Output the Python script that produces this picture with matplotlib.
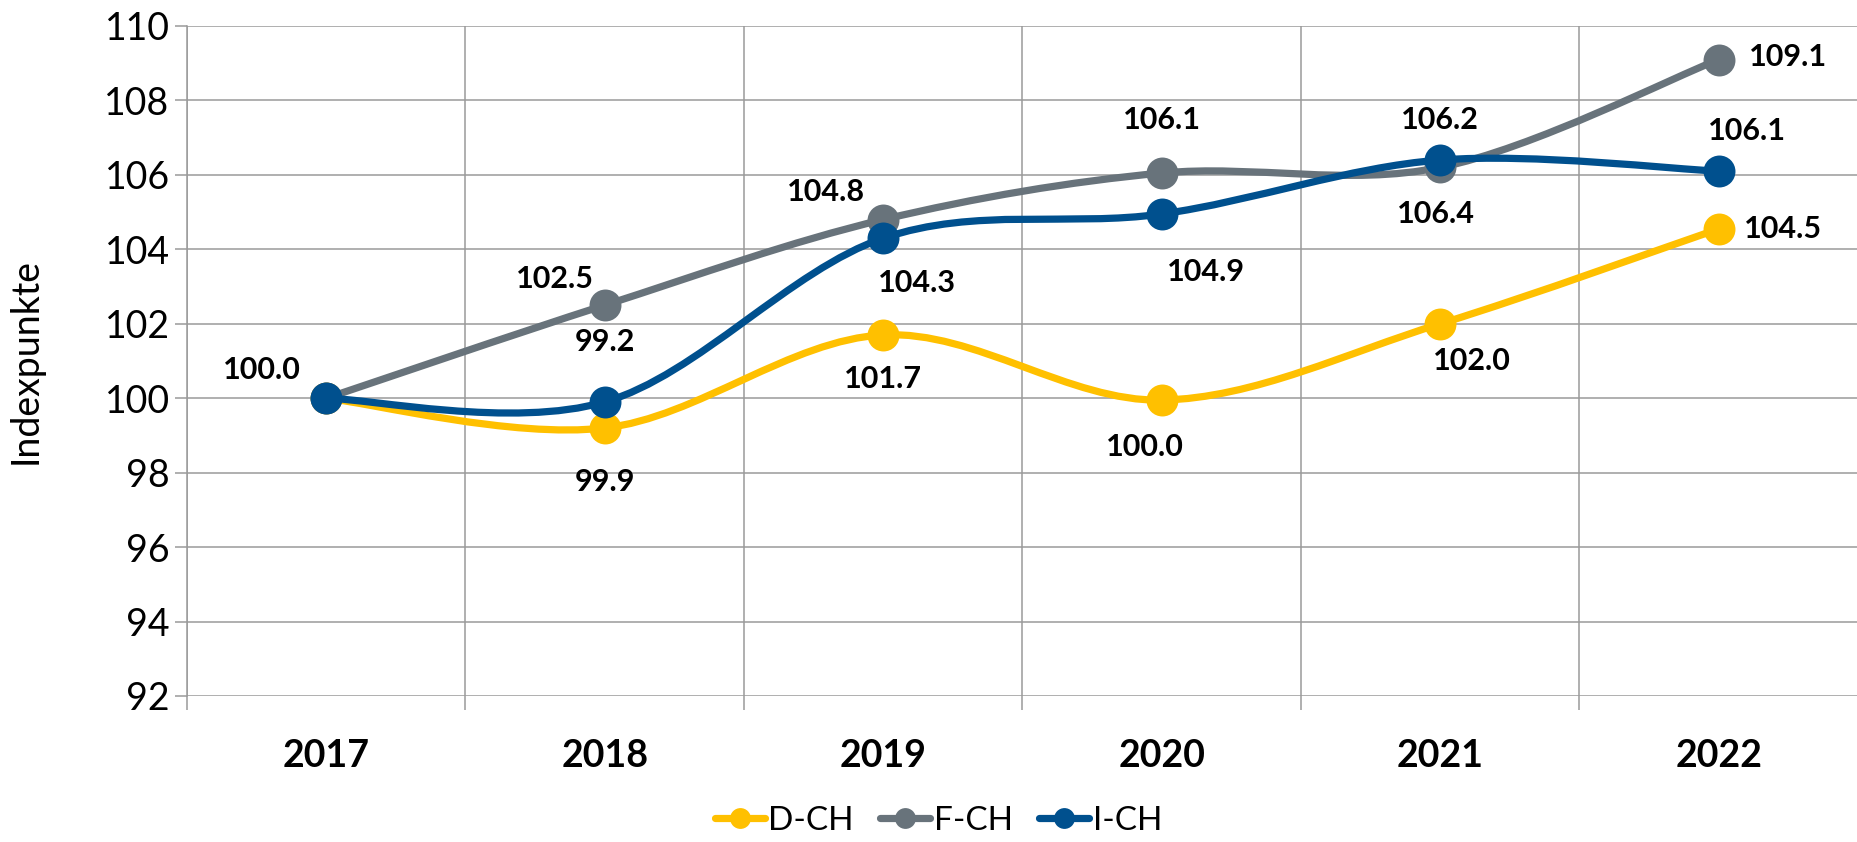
import matplotlib
matplotlib.use('Agg')
import matplotlib.pyplot as plt
import numpy as np
from matplotlib.path import Path
from matplotlib.patches import PathPatch
from matplotlib.lines import Line2D
from matplotlib.ticker import FixedLocator

# ---------------- data ----------------
years = ['2017', '2018', '2019', '2020', '2021', '2022']
series_names = ['D-CH', 'F-CH', 'I-CH']
d_ch = [100.0, 99.2, 101.7, 99.95, 102.0, 104.55]
f_ch = [100.0, 102.5, 104.8, 106.05, 106.2, 109.1]
i_ch = [100.0, 99.9, 104.3, 104.95, 106.4, 106.1]
d_labels = ['', '99.9', '101.7', '100.0', '102.0', '104.5']
f_labels = ['', '102.5', '104.8', '106.1', '106.2', '109.1']
i_labels = ['100.0', '99.2', '104.3', '104.9', '106.4', '106.1']
y_ticks = [92, 94, 96, 98, 100, 102, 104, 106, 108, 110]

# ---------------- style ----------------
colors = ['#FFC000', '#68737B', '#00508E']
d_off = [(0, 0), (0, -39), (0, -32), (-12, -34), (23, -27), (46, 0)]
f_off = [(0, 0), (-36, 19), (-41, 20), (0, 38), (0, 34), (50, 2)]
i_off = [(-46, 20), (0, 43), (24, -32), (32, -42), (-3, -39), (20, 29)]

plt.rcParams['font.family'] = ['Lato', 'DejaVu Sans']
grid_c = '#9A9A9A'

fig = plt.figure(figsize=(18.58, 8.42), dpi=100)
ax = fig.add_axes([187 / 1858, 1 - 696 / 842, 1 - 187 / 1858, (696 - 26) / 842])

x = np.arange(len(years))


def smooth_path(xs, ys):
    pts = np.column_stack([xs, ys]).astype(float)
    n = len(pts)
    verts = [pts[0]]
    codes = [Path.MOVETO]
    for i in range(n - 1):
        p0 = pts[i - 1] if i > 0 else pts[i]
        p1 = pts[i]
        p2 = pts[i + 1]
        p3 = pts[i + 2] if i + 2 < n else pts[i + 1]
        c1 = p1 + (p2 - p0) / 6.0
        c2 = p2 - (p3 - p1) / 6.0
        verts += [c1, c2, p2]
        codes += [Path.CURVE4] * 3
    return Path(verts, codes)


all_vals = [d_ch, f_ch, i_ch]
all_labels = [d_labels, f_labels, i_labels]
all_offs = [d_off, f_off, i_off]
handles = []
for k, (vals, col) in enumerate(zip(all_vals, colors)):
    patch = PathPatch(smooth_path(x, vals), facecolor='none', edgecolor=col,
                      lw=5.2, capstyle='round', joinstyle='round', zorder=3 + k)
    ax.add_patch(patch)
    ax.plot(x, vals, linestyle='none', marker='o', ms=23, color=col,
            markeredgewidth=0, zorder=3 + k)
    handles.append(Line2D([0], [0], color=col, lw=5.2, marker='o', ms=15,
                          markeredgewidth=0, solid_capstyle='round'))

for vals, labs, offs in zip(all_vals, all_labels, all_offs):
    for xi, v, lab, off in zip(x, vals, labs, offs):
        if lab:
            ax.annotate(lab, (xi, v), xytext=off, textcoords='offset points',
                        ha='center', va='center', fontsize=22, fontweight='bold',
                        color='black', zorder=10)

ax.set_xlim(-0.5, len(years) - 0.5)
ax.set_ylim(92, 110)
ax.set_xticks(x)
ax.set_xticklabels(years, fontsize=27, fontweight='bold')
ax.xaxis.set_minor_locator(FixedLocator(np.arange(-0.5, len(years), 1.0)))
ax.set_yticks(y_ticks)
ax.set_yticklabels([str(t) for t in y_ticks], fontsize=27)

ax.tick_params(axis='x', which='major', length=0, pad=31)
ax.tick_params(axis='x', which='minor', length=10, width=1.1, color=grid_c)
ax.tick_params(axis='y', which='major', length=8.5, width=1.1, color=grid_c, pad=4)

ax.grid(axis='y', which='major', color=grid_c, lw=1.1, zorder=0)
ax.grid(axis='x', which='minor', color=grid_c, lw=1.1, zorder=0)
for s in ['top', 'right', 'bottom']:
    ax.spines[s].set_visible(False)
ax.spines['left'].set_color(grid_c)
ax.spines['left'].set_linewidth(1.1)
ax.set_axisbelow(True)

ax.set_ylabel('Indexpunkte', fontsize=27)
ax.yaxis.set_label_coords(-0.086, 0.5)

fig.legend(handles, series_names, loc='center', bbox_to_anchor=(0.505, 0.025),
           ncol=3, frameon=False, fontsize=24, handlelength=1.5,
           columnspacing=0.8, handletextpad=0.1)

fig.savefig('out.png', dpi=100)
